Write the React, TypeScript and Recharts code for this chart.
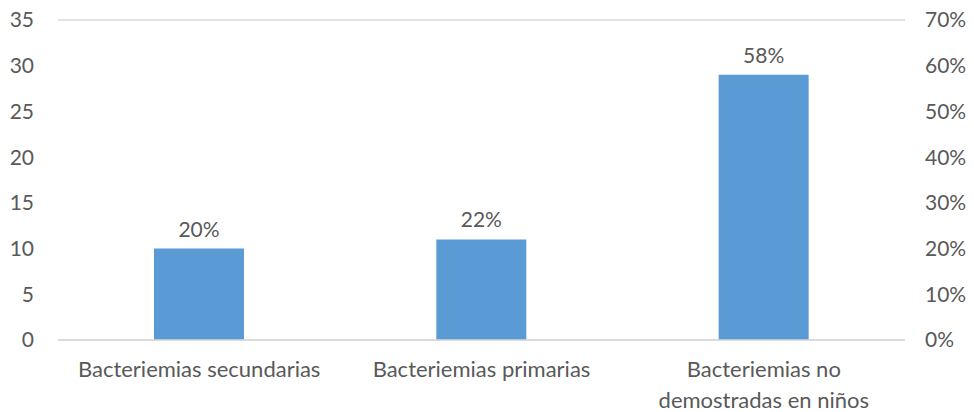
import React from "react";
import { BarChart, Bar, XAxis, YAxis, CartesianGrid, LabelList } from "recharts";

const categories = [
  "Bacteriemias secundarias",
  "Bacteriemias primarias",
  "Bacteriemias no demostradas en niños",
];
const shares = [20, 22, 58];
const countTicks = [0, 5, 10, 15, 20, 25, 30, 35];
const shareTicks = [0, 10, 20, 30, 40, 50, 60, 70];

const data = categories.map((name, i) => ({ name, share: shares[i] }));

const FONT = "Lato, 'Open Sans', sans-serif";
const TEXT = "#595959";
const SIZE = 21;

// Greedy word wrap by character count for the category labels
const wrap = (label: string, maxChars = 26): string[] => {
  const lines: string[] = [];
  let current = "";
  for (const word of label.split(" ")) {
    const next = current ? `${current} ${word}` : word;
    if (next.length > maxChars && current) {
      lines.push(current);
      current = word;
    } else {
      current = next;
    }
  }
  if (current) lines.push(current);
  return lines;
};

const CategoryTick = (props: any) => {
  const { x, y, payload } = props;
  const lines = wrap(String(payload.value));
  return (
    <text
      x={x}
      y={y}
      textAnchor="middle"
      fill={TEXT}
      fontSize={22}
      fontFamily={FONT}
    >
      {lines.map((line, i) => (
        <tspan key={i} x={x} y={y + 29 + i * 31}>
          {line}
        </tspan>
      ))}
    </text>
  );
};

export default function App() {
  return (
    <div style={{ position: "absolute", left: 0, top: 0, background: "#fff" }}>
      <BarChart
        width={974}
        height={412}
        data={data}
        margin={{ top: 20, right: 0, bottom: 0, left: 0 }}
        barCategoryGap="34%"
      >
        <CartesianGrid vertical={false} stroke="#d9d9d9" strokeWidth={1.5} />
        <XAxis
          dataKey="name"
          axisLine={{ stroke: "#d9d9d9", strokeWidth: 1.5 }}
          tickLine={false}
          height={72}
          interval={0}
          tick={<CategoryTick />}
        />
        <YAxis
          yAxisId="count"
          orientation="left"
          width={58}
          domain={[0, 35]}
          ticks={countTicks}
          allowDataOverflow
          axisLine={false}
          tickLine={false}
          tickMargin={18}
          tick={{ fill: TEXT, fontSize: SIZE, fontFamily: FONT }}
        />
        <YAxis
          yAxisId="share"
          orientation="right"
          width={69}
          domain={[0, 70]}
          ticks={shareTicks}
          tickFormatter={(v: number) => `${v}%`}
          axisLine={false}
          tickLine={false}
          tickMargin={14}
          tick={{ fill: TEXT, fontSize: SIZE, fontFamily: FONT, textAnchor: "start" }}
        />
        <Bar yAxisId="share" dataKey="share" fill="#5b9bd5" isAnimationActive={false}>
          <LabelList
            dataKey="share"
            position="top"
            offset={12}
            formatter={(v: number) => `${v}%`}
            fill={TEXT}
            fontSize={SIZE}
            fontFamily={FONT}
          />
        </Bar>
      </BarChart>
    </div>
  );
}
